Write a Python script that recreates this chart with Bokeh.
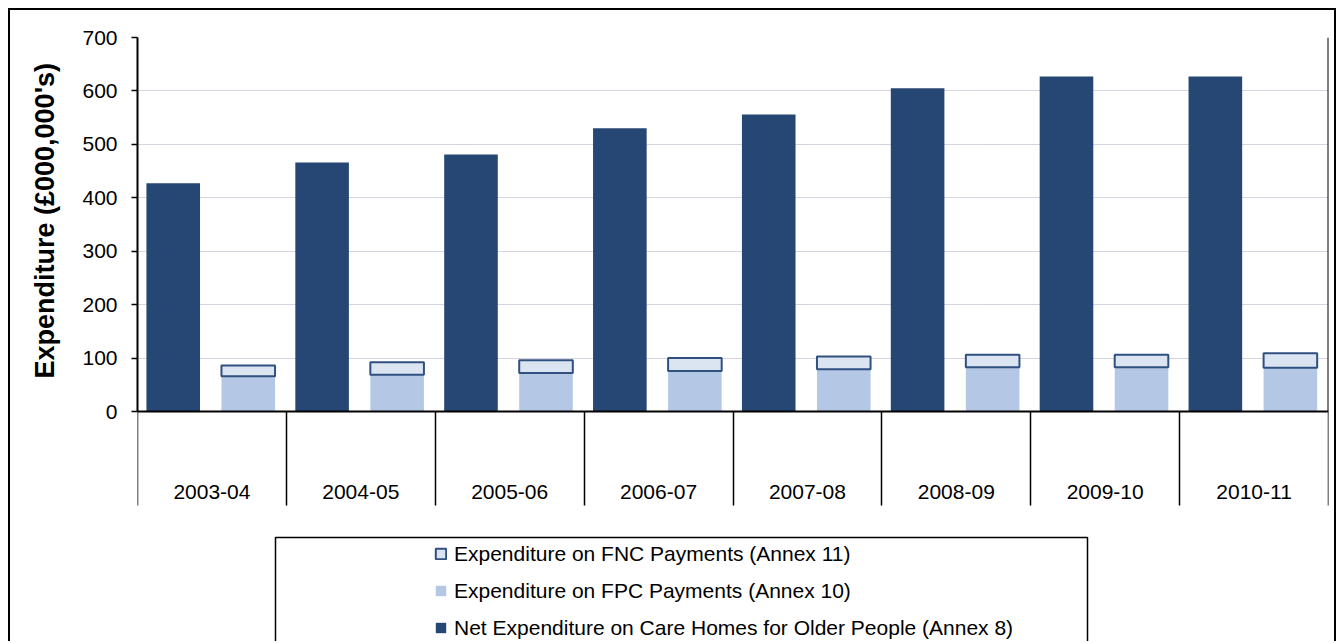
import numpy as np
from bokeh.plotting import figure
from bokeh.models import FixedTicker, Legend, LegendItem, BoxAnnotation, Range1d, Title
from bokeh.embed import file_html
from bokeh.resources import INLINE

years = ["2003-04", "2004-05", "2005-06", "2006-07", "2007-08", "2008-09", "2009-10", "2010-11"]
net_care_homes = [427, 466, 481, 530, 556, 605, 627, 627]
fpc_payments = [66, 69, 72, 76, 79, 83, 83, 82]
fnc_payments = [20, 23, 24, 24, 24, 23, 23, 27]
y_ticks = [0, 100, 200, 300, 400, 500, 600, 700]
legend_labels = ["Expenditure on FNC Payments (Annex 11)",
                 "Expenditure on FPC Payments (Annex 10)",
                 "Net Expenditure on Care Homes for Older People (Annex 8)"]
y_title = "Expenditure (£000,000's)"

FONT = "Liberation Sans"
DARK = "#264774"
LIGHT = "#b4c8e6"
PALE = "#dbe5f2"
EDGE = "#30507f"

# canvas sits inside an 8px margin + 2px CSS border -> canvas origin at page (10, 10)
W, H = 1328, 633
FL, FR, FT, Y0 = 127, 1318, 27, 401          # frame left/right/top, pixel row of value 0
ymax = y_ticks[-1]
ymin = -ymax * (H - Y0) / (Y0 - FT)            # frame extends down to the canvas bottom

idx = np.arange(len(years))
dark_x = idx + 0.24
light_x = idx + 0.744
fpc = np.array(fpc_payments)
fnc_top = fpc + np.array(fnc_payments)

p = figure(width=W, height=H, x_range=Range1d(0, len(years)), y_range=Range1d(ymin, ymax),
           output_backend="svg", toolbar_location=None,
           min_border_left=FL, min_border_top=FT, min_border_right=W - FR, min_border_bottom=0)
p.styles = {"margin-left": "8px", "margin-top": "8px",
            "border-left": "2px solid black", "border-top": "2px solid black",
            "border-right": "2px solid black"}
p.outline_line_color = None
p.background_fill_color = "white"
p.border_fill_color = "white"

r_net = p.vbar(x=dark_x, top=net_care_homes, width=0.36, fill_color=DARK, line_color=None)
r_fpc = p.vbar(x=light_x, top=fpc, width=0.36, fill_color=LIGHT, line_color=None)
r_fnc = p.vbar(x=light_x, bottom=fpc, top=fnc_top, width=0.36, fill_color=PALE,
               line_color=EDGE, line_width=2)
# right-hand edge of the plot area
p.segment(x0=[len(years)], y0=[0], x1=[len(years)], y1=[ymax], line_color="black", line_width=2)

# x axis fixed at value 0: labels at category centres, dividers as minor ticks
xa = p.xaxis[0]
xa.fixed_location = 0
xa.ticker = FixedTicker(ticks=[i + 0.5 for i in idx], minor_ticks=list(range(len(years) + 1)))
xa.major_label_overrides = {float(i + 0.5): y for i, y in zip(idx, years)}
xa.major_tick_out = 0
xa.major_tick_in = 0
xa.minor_tick_out = 94
xa.minor_tick_in = 0
xa.minor_tick_line_color = "black"
xa.minor_tick_line_width = 1.5
xa.axis_line_color = "black"
xa.axis_line_width = 2
xa.major_label_standoff = -21
xa.major_label_text_font = FONT
xa.major_label_text_font_size = "21px"
xa.major_label_text_color = "black"

ya = p.yaxis[0]
ya.bounds = (0, ymax)
ya.ticker = FixedTicker(ticks=y_ticks, minor_ticks=[])
ya.major_tick_out = 6
ya.major_tick_in = 0
ya.major_tick_line_color = "black"
ya.major_tick_line_width = 1.5
ya.axis_line_color = "black"
ya.axis_line_width = 2
ya.major_label_standoff = 14
ya.major_label_text_font = FONT
ya.major_label_text_font_size = "21px"
ya.major_label_text_color = "black"

# y title as a side title so that it can be placed along the 0-700 part of the axis
p.add_layout(Title(text=y_title, align="left", vertical_align="top", offset=H - 368,
                   standoff=35, text_font=FONT, text_font_style="bold",
                   text_font_size="27px", text_color="black"), "left")

p.xgrid.visible = False
p.ygrid.ticker = FixedTicker(ticks=y_ticks)
p.ygrid.grid_line_color = "#aca6c8"
p.ygrid.grid_line_dash = "1 1"
p.ygrid.grid_line_width = 1

# legend (inside the extended frame)
items = [LegendItem(label=legend_labels[0], renderers=[r_fnc]),
         LegendItem(label=legend_labels[1], renderers=[r_fpc]),
         LegendItem(label=legend_labels[2], renderers=[r_net])]
legend = Legend(items=items, location=(424 - FL, 2), orientation="vertical")
legend.border_line_alpha = 0
legend.background_fill_alpha = 0
legend.padding = 0
legend.margin = 0
legend.spacing = 10
legend.label_height = 27
legend.glyph_width = 13
legend.glyph_height = 13
legend.label_standoff = 7
legend.label_text_font = FONT
legend.label_text_font_size = "21px"
legend.label_text_color = "black"
p.add_layout(legend)

# legend box
p.add_layout(BoxAnnotation(left=263, right=1075, top=525, bottom=H + 20,
                           left_units="canvas", right_units="canvas",
                           top_units="canvas", bottom_units="canvas",
                           fill_alpha=0, line_color="black", line_alpha=1,
                           line_width=1.5, level="underlay"))

open("out.html", "w").write(file_html(p, INLINE))
